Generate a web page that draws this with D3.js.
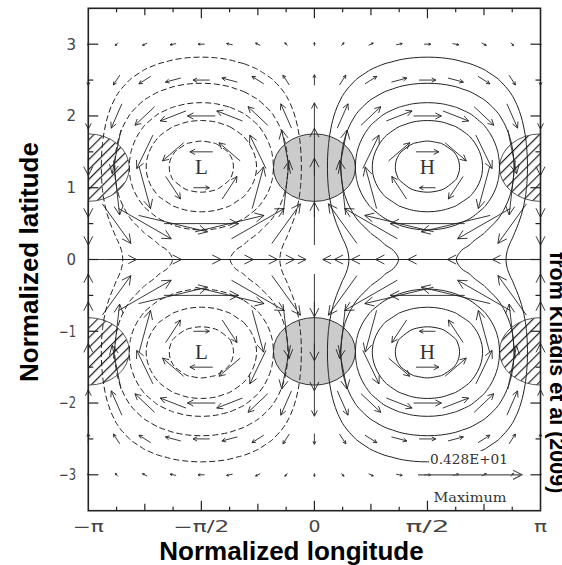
<!DOCTYPE html>
<html><head><meta charset="utf-8">
<script src="https://cdn.jsdelivr.net/npm/d3@7"></script>
<style>html,body{margin:0;padding:0;background:#fff;} svg{display:block;}</style>
</head><body>
<svg id="chart" width="562" height="565"></svg>
<script>
// ---------------- data ----------------
const lonTickFractions = [-1, -0.5, 0, 0.5, 1];            // multiples of pi
const lonTickLabels = ["−π", "−π/2", "0", "π/2", "π"];
const latTicks = [-3, -2, -1, 0, 1, 2, 3];
const latTickLabels = ["−3", "−2", "−1", "0", "1", "2", "3"];

// wind vectors (grid of arrows)
const vecLonFractions = [-1,-0.875,-0.75,-0.625,-0.5,-0.375,-0.25,-0.125,0,0.125,0.25,0.375,0.5,0.625,0.75,0.875,1];
const vecLonSin = [0,-0.383,-0.707,-0.924,-1,-0.924,-0.707,-0.383,0,0.383,0.707,0.924,1,0.924,0.707,0.383,0];
const vecLonCos = [-1,-0.924,-0.707,-0.383,0,0.383,0.707,0.924,1,0.924,0.707,0.383,0,-0.383,-0.707,-0.924,-1];
const vecLats = [-3,-2.5,-2,-1.5,-1,-0.5,0,0.5,1,1.5,2,2.5,3];
const vecUProfile = [0.271,0.688,1.148,0.942,-0.659,-3.070,-4.276,-3.070,-0.659,0.942,1.148,0.688,0.271];
const vecVProfile = [-0.133,-0.439,-1.083,-1.948,-2.426,-1.765,0,1.765,2.426,1.948,1.083,0.439,0.133];
const maxVector = 4.28;
const maxVectorLabel = "0.428E+01";

// geopotential field (contoured)
const phiLonSin = [0,-0.195,-0.383,-0.556,-0.707,-0.831,-0.924,-0.981,-1,-0.981,-0.924,-0.831,-0.707,-0.556,-0.383,-0.195,0,
                   0.195,0.383,0.556,0.707,0.831,0.924,0.981,1,0.981,0.924,0.831,0.707,0.556,0.383,0.195,0];
const phiLatRange = [-3.5, 3.5];
const phiLatProfile = [0.088,0.126,0.177,0.244,0.331,0.440,0.575,0.736,0.924,1.137,1.371,1.620,1.874,2.121,2.347,2.539,2.683,2.765,2.779,2.721,2.594,2.406,2.174,1.919,1.663,1.431,1.246,1.128,
                       1.087,
                       1.128,1.246,1.431,1.663,1.919,2.174,2.406,2.594,2.721,2.779,2.765,2.683,2.539,2.347,2.121,1.874,1.620,1.371,1.137,0.924,0.736,0.575,0.440,0.331,0.244,0.177,0.126,0.088];
const contourLevels = [0.5, 1.0, 1.5, 2.0, 2.5];

// highs / lows and convergence (shaded) / divergence (hatched) areas
const centerLabels = ["L", "H", "L", "H"];
const centerLonFractions = [-0.5, 0.5, -0.5, 0.5];
const centerLats = [1.29, 1.29, -1.29, -1.29];
const convLonFractions = [0, 0];
const convLats = [1.28, -1.28];
const divLonFractions = [-1, -1, 1, 1];
const divLats = [1.28, -1.28, 1.28, -1.28];
const anomalyHalfWidth = 0.57;   // radians
const anomalyHalfHeight = 0.47;  // latitude units

(function () {
// ---------------- layout ----------------
const PI = Math.PI;
const svg = d3.select("#chart");
const pL = 88.3, pR = 540.5, pT = 8.3, pB = 510.7;
const x = d3.scaleLinear().domain([-PI, PI]).range([pL, pR]);
const y = d3.scaleLinear().domain([-3.5, 3.5]).range([pB, pT]);
const vlen = d3.scaleLinear().domain([0, maxVector]).range([0, 104]);

const defs = svg.append("defs");
defs.append("clipPath").attr("id", "plotclip").append("rect")
  .attr("x", pL).attr("y", pT).attr("width", pR - pL).attr("height", pB - pT);
const pat = defs.append("pattern").attr("id", "hatch").attr("patternUnits", "userSpaceOnUse")
  .attr("width", 7).attr("height", 7).attr("patternTransform", "rotate(45)");
pat.append("rect").attr("x", 0).attr("y", 0).attr("width", 1.2).attr("height", 7).attr("fill", "#222");

const plot = svg.append("g").attr("clip-path", "url(#plotclip)");

// shaded convergence
convLats.forEach((lat, i) => {
  plot.append("ellipse").attr("cx", x(convLonFractions[i] * PI)).attr("cy", y(lat))
    .attr("rx", x(anomalyHalfWidth) - x(0)).attr("ry", y(0) - y(anomalyHalfHeight))
    .attr("fill", "#cbcbcb").attr("stroke", "#333").attr("stroke-width", 1);
});
// hatched divergence
divLats.forEach((lat, i) => {
  plot.append("ellipse").attr("cx", x(divLonFractions[i] * PI)).attr("cy", y(lat))
    .attr("rx", x(anomalyHalfWidth) - x(0)).attr("ry", y(0) - y(anomalyHalfHeight))
    .attr("fill", "url(#hatch)").attr("stroke", "#444").attr("stroke-width", 0.9);
});

// contours
const nx = phiLonSin.length, ny = phiLatProfile.length;
const posVals = new Array(nx * ny), negVals = new Array(nx * ny);
for (let j = 0; j < ny; j++) for (let i = 0; i < nx; i++) {
  posVals[j * nx + i] = phiLatProfile[j] * phiLonSin[i];
  negVals[j * nx + i] = -posVals[j * nx + i];
}
const gx = d3.scaleLinear().domain([0.5, nx - 0.5]).range([x(-PI), x(PI)]);
const gy = d3.scaleLinear().domain([0.5, ny - 0.5]).range([y(phiLatRange[0]), y(phiLatRange[1])]);
const ringLine = d3.line().x(p => gx(p[0])).y(p => gy(p[1])).curve(d3.curveCatmullRomClosed.alpha(0.5));
const contourGen = d3.contours().size([nx, ny]).thresholds(contourLevels);
function drawContours(vals, dashed) {
  contourGen(vals).forEach(mp => {
    mp.coordinates.forEach(poly => poly.forEach(ring => {
      plot.append("path").attr("d", ringLine(ring.slice(0, -1)))
        .attr("fill", "none").attr("stroke", "#222").attr("stroke-width", 1)
        .attr("stroke-dasharray", dashed ? "6,3" : null);
    }));
  });
}
drawContours(posVals, false);
drawContours(negVals, true);

// arrows
const arrows = svg.append("g");
function arrow(g, x0, y0, x1, y1, color, w) {
  const dx = x1 - x0, dy = y1 - y0, L = Math.hypot(dx, dy);
  if (L < 0.5) return;
  const h = Math.min(10, 0.2 * L + 1.2), a = 27 * PI / 180;
  const ang = Math.atan2(dy, dx);
  const hx1 = x1 - h * Math.cos(ang - a), hy1 = y1 - h * Math.sin(ang - a);
  const hx2 = x1 - h * Math.cos(ang + a), hy2 = y1 - h * Math.sin(ang + a);
  g.append("path").attr("d", `M${x0},${y0}L${x1},${y1}M${hx1},${hy1}L${x1},${y1}L${hx2},${hy2}`)
    .attr("fill", "none").attr("stroke", color).attr("stroke-width", w);
}
vecLats.forEach((lat, j) => vecLonFractions.forEach((lf, i) => {
  const u = vecUProfile[j] * vecLonSin[i], v = vecVProfile[j] * vecLonCos[i];
  const cx = x(lf * PI), cy = y(lat);
  const dx = vlen(u), dy = -vlen(v);
  arrow(arrows, cx - dx / 2, cy - dy / 2, cx + dx / 2, cy + dy / 2, "#222", 0.9);
}));

// H / L labels
centerLabels.forEach((t, i) => {
  svg.append("text").attr("x", x(centerLonFractions[i] * PI)).attr("y", y(centerLats[i]) + 7)
    .attr("text-anchor", "middle").attr("font-family", "Liberation Serif, serif")
    .attr("font-size", 21).attr("fill", "#333").text(t);
});

// legend (maximum vector)
const legY = y(-3);
svg.append("rect").attr("x", 429).attr("y", 451).attr("width", 81).attr("height", 15).attr("fill", "#fff");
svg.append("text").attr("x", 469).attr("y", 464).attr("text-anchor", "middle")
  .attr("font-family", "DejaVu Serif, serif").attr("font-size", 12.5).attr("fill", "#333")
  .attr("textLength", 78).attr("lengthAdjust", "spacingAndGlyphs").text(maxVectorLabel);
arrow(svg, 522 - vlen(maxVector), legY, 522, legY, "#555", 1.2);
svg.append("text").attr("x", 470).attr("y", 502).attr("text-anchor", "middle")
  .attr("font-family", "DejaVu Serif, serif").attr("font-size", 12).attr("fill", "#333")
  .attr("textLength", 73).attr("lengthAdjust", "spacingAndGlyphs").text("Maximum");

// frame & ticks
svg.append("rect").attr("x", pL).attr("y", pT).attr("width", pR - pL).attr("height", pB - pT)
  .attr("fill", "none").attr("stroke", "#222").attr("stroke-width", 1.6);
const tk = svg.append("g").attr("stroke", "#222").attr("stroke-width", 1.2);
d3.range(-7, 8).forEach(k => {
  const xv = x(k * PI / 8);
  const len = (k % 4 === 0) ? 10 : (k % 2 === 0 ? 7 : 4);
  tk.append("line").attr("x1", xv).attr("x2", xv).attr("y1", pB).attr("y2", pB - len);
  tk.append("line").attr("x1", xv).attr("x2", xv).attr("y1", pT).attr("y2", pT + len);
});
d3.range(-6, 7).forEach(k => {
  const yv = y(k * 0.5);
  const len = (k % 2 === 0) ? 10 : 5;
  tk.append("line").attr("x1", pL).attr("x2", pL + len).attr("y1", yv).attr("y2", yv);
  tk.append("line").attr("x1", pR).attr("x2", pR - len).attr("y1", yv).attr("y2", yv);
});

// tick labels
const lonLabelWidths = [31, 56, 12, 44, 13];
lonTickFractions.forEach((f, i) => {
  svg.append("text").attr("x", x(f * PI)).attr("y", 532).attr("text-anchor", "middle")
    .attr("font-family", "DejaVu Sans, sans-serif").attr("font-size", 15).attr("fill", "#444")
    .attr("textLength", lonLabelWidths[i]).attr("lengthAdjust", "spacingAndGlyphs").text(lonTickLabels[i]);
});
latTicks.forEach((v, i) => {
  const t = svg.append("text").attr("x", 76).attr("y", y(v)).attr("dy", "0.36em").attr("text-anchor", "end")
    .attr("font-family", "DejaVu Sans, sans-serif").attr("font-size", 15).attr("fill", "#444")
    .text(latTickLabels[i]);
  if (v < 0) t.attr("textLength", 17).attr("lengthAdjust", "spacingAndGlyphs");
});

// axis titles
svg.append("text").attr("x", 291.5).attr("y", 560).attr("text-anchor", "middle")
  .attr("font-family", "Liberation Sans, Arial, sans-serif").attr("font-weight", "bold").attr("font-size", 26)
  .text("Normalized longitude");
svg.append("text").attr("transform", "translate(38,262) rotate(-90)").attr("text-anchor", "middle")
  .attr("font-family", "Liberation Sans, Arial, sans-serif").attr("font-weight", "bold").attr("font-size", 26)
  .text("Normalized latitude");
svg.append("text").attr("transform", "translate(550,252) rotate(90)").attr("text-anchor", "start")
  .attr("font-family", "Liberation Sans, Arial, sans-serif").attr("font-weight", "bold").attr("font-size", 21.5)
  .text("from Kiladis et al (2009)");
})();
</script>
</body></html>
